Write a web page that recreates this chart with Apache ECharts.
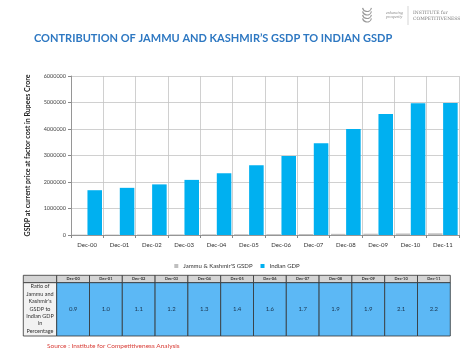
<!DOCTYPE html>
<html><head><meta charset="utf-8">
<script src="https://cdn.jsdelivr.net/npm/echarts@6/dist/echarts.min.js"></script>
<style>html,body{margin:0;padding:0;background:#fff}#c{width:474px;height:355px}</style>
</head><body><div id="c"></div>
<script>
const categories = ['Dec-00','Dec-01','Dec-02','Dec-03','Dec-04','Dec-05','Dec-06','Dec-07','Dec-08','Dec-09','Dec-10','Dec-11'];
const indianGDP = [1690000,1780000,1910000,2080000,2330000,2630000,2980000,3460000,4000000,4570000,4970000,4980000];
const jkGSDP = [15200,17800,20500,22800,27300,30000,33500,38000,44000,50000,58000,64000];
const ratioPct = ['0.9','1.0','1.1','1.2','1.3','1.4','1.6','1.7','1.9','1.9','2.1','2.2'];
const rowLabel = ['Ratio of','Jammu and',"Kashmir's",'GSDP to','Indian GDP','in','Percentage'];
const yTicks = [0,1000000,2000000,3000000,4000000,5000000,6000000];

const chart = echarts.init(document.getElementById('c'));
const F = 'Lato, "Open Sans", sans-serif';

// table graphics
const T = {x0:23.3, c0:56.7, cw:32.8, y0:275.3, hy:282.7, y1:336};
const g = [];
g.push({type:'rect',shape:{x:T.x0,y:T.y0,width:T.c0-T.x0,height:T.hy-T.y0},style:{fill:'#d4d4d4',stroke:'#333',lineWidth:0.8}});
g.push({type:'rect',shape:{x:T.x0,y:T.hy,width:T.c0-T.x0,height:T.y1-T.hy},style:{fill:'#f2f2f2',stroke:'#333',lineWidth:0.8}});
rowLabel.forEach((t,i)=>{
  g.push({type:'text',style:{text:t,x:(T.x0+T.c0)/2,y:T.hy+4+i*7.35,align:'center',verticalAlign:'middle',font:'5.5px '+F,fill:'#333'}});
});
categories.forEach((c,i)=>{
  const x = T.c0 + i*T.cw;
  g.push({type:'rect',shape:{x:x,y:T.y0,width:T.cw,height:T.hy-T.y0},style:{fill:'#d4d4d4',stroke:'#333',lineWidth:0.8}});
  g.push({type:'text',style:{text:c,x:x+T.cw/2,y:(T.y0+T.hy)/2,align:'center',verticalAlign:'middle',font:'bold 4px '+F,fill:'#333'}});
  g.push({type:'rect',shape:{x:x,y:T.hy,width:T.cw,height:T.y1-T.hy},style:{fill:'#5cb8f5',stroke:'#333',lineWidth:0.8}});
  g.push({type:'text',style:{text:ratioPct[i],x:x+T.cw/2,y:(T.hy+T.y1)/2,align:'center',verticalAlign:'middle',font:'6px '+F,fill:'#1a3550'}});
});
// source
g.push({type:'text',style:{text:'Source : Institute for Competitiveness Analysis',x:47,y:346,verticalAlign:'middle',font:'6.5px '+F,fill:'#d9403a'}});
// logo
[0,3.5,7,10.5].forEach((dy)=>{
  g.push({type:'arc',shape:{cx:367,cy:7+dy,r:4.5,startAngle:0.2,endAngle:Math.PI-0.2},style:{stroke:'#9a9a9a',lineWidth:1.2,fill:null}});
});
g.push({type:'text',style:{text:'enhancing',x:386,y:13,verticalAlign:'middle',font:'italic 4px serif',fill:'#888'}});
g.push({type:'text',style:{text:'prosperity',x:386,y:17,verticalAlign:'middle',font:'italic 4px serif',fill:'#888'}});
g.push({type:'line',shape:{x1:408,y1:6,x2:408,y2:25},style:{stroke:'#bbb',lineWidth:0.6}});
g.push({type:'text',style:{text:'INSTITUTE for',x:413,y:13,verticalAlign:'middle',font:'4.5px "DejaVu Serif", serif',fill:'#777'}});
g.push({type:'text',style:{text:'COMPETITIVENESS',x:413,y:19,verticalAlign:'middle',font:'4.5px "DejaVu Serif", serif',fill:'#777'}});

chart.setOption({
  animation:false,
  title:{text:"CONTRIBUTION OF JAMMU AND KASHMIR’S GSDP TO INDIAN GSDP",left:29,top:28,
    textStyle:{fontFamily:F,fontWeight:'bold',fontSize:11,color:'#2e78c2'}},
  legend:{top:258,left:'center',itemWidth:4,itemHeight:4,itemGap:8,icon:'rect',
    textStyle:{fontFamily:F,fontSize:6,color:'#333'},data:["Jammu & Kashmir'S GSDP",'Indian GDP']},
  grid:{left:71,right:15,top:76,bottom:120,containLabel:false},
  xAxis:{type:'category',data:categories,
    axisLine:{lineStyle:{color:'#888',width:0.8}},
    axisTick:{show:true,length:3,lineStyle:{color:'#888'}},
    axisLabel:{fontFamily:F,fontSize:6,color:'#333',margin:7},
    splitLine:{show:true,lineStyle:{color:'#c4c4c4',width:0.8}}},
  yAxis:{type:'value',min:yTicks[0],max:yTicks[yTicks.length-1],interval:1000000,
    name:'GSDP at current price at factor cost in Rupees Crore',nameLocation:'middle',nameGap:40,
    nameTextStyle:{fontFamily:F,fontWeight:'bold',fontSize:7,color:'#222'},
    axisLine:{show:true,lineStyle:{color:'#888',width:0.8}},
    axisTick:{show:true,length:3,lineStyle:{color:'#888'}},
    axisLabel:{fontFamily:F,fontSize:5.5,color:'#444',margin:5,formatter:v=>String(v)},
    splitLine:{lineStyle:{color:'#c4c4c4',width:0.8}}},
  series:[
    {name:"Jammu & Kashmir'S GSDP",type:'bar',data:jkGSDP,barWidth:'45%',barGap:'4%',itemStyle:{color:'#bfbfbf'}},
    {name:'Indian GDP',type:'bar',data:indianGDP,barWidth:'45%',barGap:'4%',itemStyle:{color:'#00b0f0'}}
  ],
  graphic:g
});
</script></body></html>
